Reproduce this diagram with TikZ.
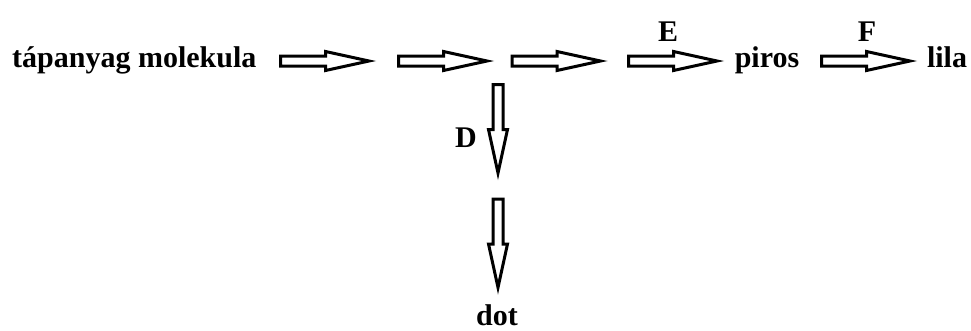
\documentclass[tikz,border=0pt]{standalone}
\usepackage{fontspec}
\setmainfont{Liberation Serif}
\begin{document}
\begin{tikzpicture}[x=1pt,y=-1pt,
  lbl/.style={font=\fontsize{30}{32}\selectfont\bfseries, inner sep=0pt},
  blk/.style={draw=black, line width=3pt, line join=miter, fill=white},
  blockarrow/.pic={\draw[blk] (0,-5) -- (45,-5) -- (45,-9.5) -- (88.5,0) -- (45,9.5) -- (45,5) -- (0,5) -- cycle;}
]
\useasboundingbox (0,0) rectangle (971,330);
% texts
\node[lbl, anchor=base west] (src) at (12,67) {tápanyag molekula};
\node[lbl, anchor=base] (piros) at (767,67) {piros};
\node[lbl, anchor=base] (lila) at (947,67) {lila};
\node[lbl, anchor=base] (E) at (668,41) {E};
\node[lbl, anchor=base] (F) at (867,41) {F};
\node[lbl, anchor=base] (D) at (466,147) {D};
\node[lbl, anchor=base] (dot) at (497,325) {dot};
% horizontal block arrows
\pic at (280.5,61) {blockarrow};
\pic at (398.5,61) {blockarrow};
\pic at (512,61) {blockarrow};
\pic at (628.5,61) {blockarrow};
\pic at (821.5,61) {blockarrow};
% vertical block arrows
\pic[rotate=-90] at (498,84.5) {blockarrow};
\pic[rotate=-90] at (498,199) {blockarrow};
\end{tikzpicture}
\end{document}
